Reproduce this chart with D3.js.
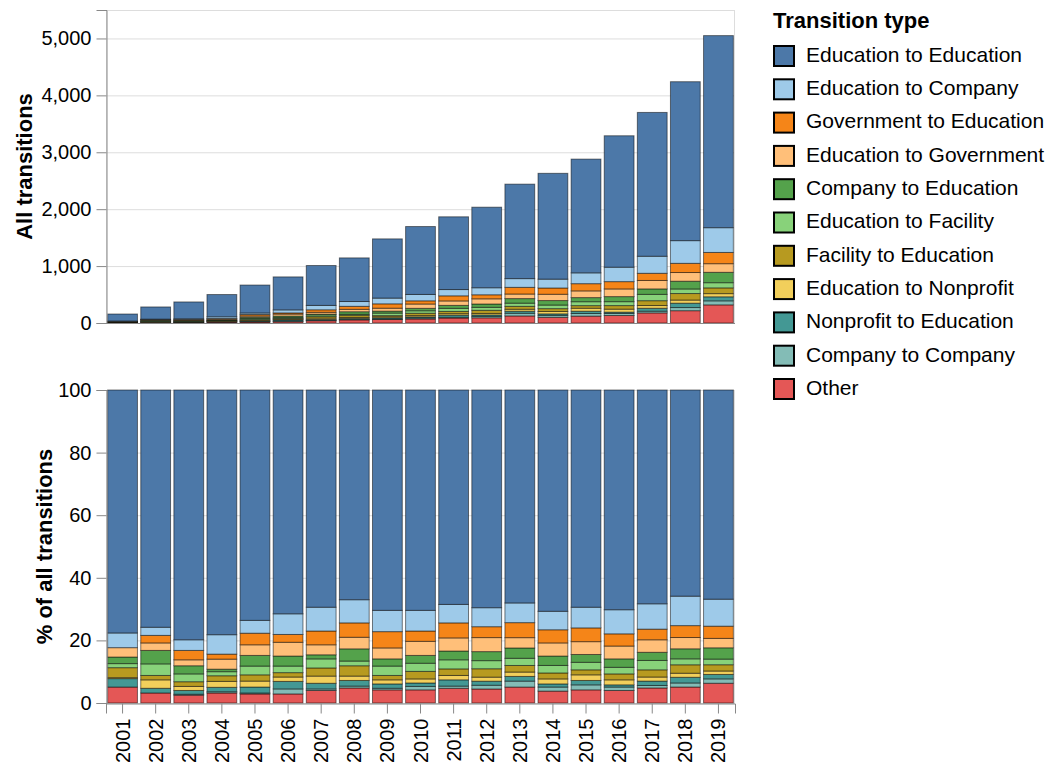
<!DOCTYPE html>
<html>
<head>
<meta charset="utf-8">
<script src="https://cdn.jsdelivr.net/npm/d3@7"></script>
<style>
  body { margin: 0; background: #fff; }
  text { font-family: "Liberation Sans", Arial, sans-serif; fill: #000; }
</style>
</head>
<body>
<script>
var years = ["2001", "2002", "2003", "2004", "2005", "2006", "2007", "2008", "2009", "2010",
  "2011", "2012", "2013", "2014", "2015", "2016", "2017", "2018", "2019"];

// total number of transitions per year
var totals = [158, 282, 370, 500, 667, 810, 1010, 1144, 1478, 1695, 1866, 2035, 2440, 2630, 2880, 3290, 3700, 4240, 5050];

// legend order (top of the stack first)
var types = ["Education to Education", "Education to Company", "Government to Education",
  "Education to Government", "Company to Education", "Education to Facility",
  "Facility to Education", "Education to Nonprofit", "Nonprofit to Education",
  "Company to Company", "Other"];
var colors = ["#4c78a8", "#9ecae9", "#f58518", "#ffbf79", "#54a24b", "#88d27a",
  "#b79a20", "#f2cf5b", "#439894", "#83bcb6", "#e45756"];

// share of the year's transitions, in %
var eduToEdu =         [77.7, 75.8, 79.8, 78.1, 73.6, 71.5, 69.4, 67.0, 70.4, 70.4, 68.5, 69.9, 68.1, 70.7, 69.4, 70.2, 68.3, 65.8, 66.7];
var eduToCompany =     [4.7, 2.6, 3.4, 6.2, 4.1, 6.6, 7.6, 7.4, 6.8, 6.6, 5.9, 6.1, 6.3, 5.9, 6.6, 7.7, 8.1, 9.4, 8.6];
var govToEdu =         [0, 2.4, 3.0, 1.6, 3.7, 2.5, 4.4, 4.6, 5.2, 3.3, 4.8, 3.5, 4.8, 4.2, 4.4, 3.9, 3.4, 3.8, 3.9];
var eduToGov =         [3.0, 2.4, 1.9, 3.2, 3.4, 4.4, 3.2, 3.7, 3.5, 4.5, 4.2, 4.5, 3.3, 4.2, 4.1, 4.1, 4.0, 3.6, 3.0];
var companyToEdu =     [2.1, 4.3, 2.6, 0.8, 3.4, 3.2, 1.3, 3.9, 2.3, 2.5, 2.8, 2.9, 3.3, 3.0, 2.5, 2.7, 2.6, 3.2, 3.6];
var eduToFacility =    [1.3, 3.7, 2.5, 1.3, 2.8, 2.1, 2.9, 1.5, 3.0, 2.6, 2.9, 2.6, 2.3, 2.4, 2.4, 2.1, 3.0, 1.9, 1.8];
var facilityToEdu =    [3.2, 1.4, 1.5, 1.8, 2.0, 1.4, 2.6, 3.3, 1.4, 2.4, 2.1, 2.7, 2.1, 1.9, 1.6, 1.9, 2.3, 2.7, 2.0];
var eduToNonprofit =   [0.3, 2.7, 1.3, 1.9, 1.9, 1.4, 2.3, 1.4, 1.3, 1.3, 1.4, 1.3, 1.4, 1.6, 1.8, 1.6, 1.3, 1.3, 1.1];
var nonprofitToEdu =   [2.7, 1.5, 1.2, 1.4, 1.9, 2.4, 1.8, 1.8, 1.4, 1.1, 2.0, 1.3, 1.5, 1.0, 1.4, 0.7, 1.4, 1.8, 1.4];
var companyToCompany = [0, 0, 0.3, 0.4, 0.3, 1.6, 0.5, 0.6, 0.5, 1.1, 0.7, 1.2, 1.9, 1.3, 1.6, 1.1, 0.8, 1.3, 1.4];
var other =            [5.1, 3.2, 2.5, 3.2, 2.9, 2.9, 4.0, 4.8, 4.2, 4.2, 4.7, 4.5, 5.1, 3.8, 4.2, 4.0, 4.8, 5.1, 6.3];

var shares = [eduToEdu, eduToCompany, govToEdu, eduToGov, companyToEdu, eduToFacility,
  facilityToEdu, eduToNonprofit, nonprofitToEdu, companyToCompany, other];

var w = 1047;
var h = 763;
var left = 106, right = 735;
var top1 = 10, bot1 = 323;
var top2 = 390, bot2 = 703;

var color = d3.scaleOrdinal().domain(types).range(colors);

// one row per year with counts and shares
var countRows = years.map(function(y, i) {
  var row = { year: y };
  var sum = d3.sum(shares, function(s) { return s[i]; });
  types.forEach(function(t, k) { row[t] = totals[i] * shares[k][i] / sum; });
  return row;
});
var shareRows = years.map(function(y, i) {
  var row = { year: y };
  types.forEach(function(t, k) { row[t] = shares[k][i]; });
  return row;
});

var keys = types.slice().reverse(); // "Other" at the bottom
var countStack = d3.stack().keys(keys)(countRows);
var shareStack = d3.stack().keys(keys).offset(d3.stackOffsetExpand)(shareRows);

var xScale = d3.scaleBand()
  .domain(years)
  .range([left, right])
  .paddingInner(0.1)
  .paddingOuter(0.05);

var yTop = d3.scaleLinear().domain([0, 5500]).range([bot1, top1]);
var yBot = d3.scaleLinear().domain([0, 100]).range([bot2, top2]);

var svg = d3.select("body")
  .append("svg")
  .attr("width", w)
  .attr("height", h);

function drawPanel(yScale, stack, factor, ticks, fmt, title, yTopPx, yBotPx, titleX) {
  var g = svg.append("g");

  // grid
  g.selectAll(".grid")
    .data(ticks)
    .enter()
    .append("line")
    .attr("x1", left)
    .attr("x2", right)
    .attr("y1", function(d) { return yScale(d) + 0.5; })
    .attr("y2", function(d) { return yScale(d) + 0.5; })
    .attr("stroke", "#ddd");

  // view border
  g.append("rect")
    .attr("x", left + 0.5)
    .attr("y", yTopPx + 0.5)
    .attr("width", right - left - 1)
    .attr("height", yBotPx - yTopPx)
    .attr("fill", "none")
    .attr("stroke", "#ddd");

  var layers = g.selectAll(".layer")
    .data(stack)
    .enter()
    .append("g")
    .attr("fill", function(d) { return color(d.key); });

  layers.selectAll("rect")
    .data(function(d) { return d.filter(function(p) { return p[1] - p[0] > 0; }); })
    .enter()
    .append("rect")
    .attr("x", function(d) { return xScale(d.data.year); })
    .attr("width", xScale.bandwidth())
    .attr("y", function(d) { return yScale(d[1] * factor); })
    .attr("height", function(d) { return yScale(d[0] * factor) - yScale(d[1] * factor); })
    .attr("stroke", "#000")
    .attr("stroke-opacity", 0.5)
    .attr("stroke-width", 1);

  var yAxis = d3.axisLeft(yScale)
    .tickValues(ticks)
    .tickFormat(fmt)
    .tickSize(10)
    .tickPadding(5);

  var ax = g.append("g")
    .attr("transform", "translate(" + (left + 0.5) + ",0)")
    .call(yAxis);
  ax.select(".domain").attr("stroke", "#888");
  ax.selectAll(".tick line").attr("stroke", "#888");
  ax.selectAll("text").style("font-size", "20px").attr("fill", "#000");

  svg.append("text")
    .attr("transform", "translate(" + titleX + "," + ((yTopPx + yBotPx) / 2) + ") rotate(-90)")
    .attr("text-anchor", "middle")
    .style("font-size", "22px")
    .style("font-weight", "bold")
    .text(title);

  return g;
}

drawPanel(yTop, countStack, 1, [0, 1000, 2000, 3000, 4000, 5000], d3.format(","),
  "All transitions", top1, bot1, 32);

drawPanel(yBot, shareStack, 100, [0, 20, 40, 60, 80, 100], d3.format("d"),
  "% of all transitions", top2, bot2, 52);

// top chart baseline
svg.append("line")
  .attr("x1", left)
  .attr("x2", right)
  .attr("y1", bot1 + 0.5)
  .attr("y2", bot1 + 0.5)
  .attr("stroke", "#888");

var xAxis = d3.axisBottom(xScale).tickSize(10).tickPadding(0);
var xg = svg.append("g")
  .attr("transform", "translate(0," + (bot2 + 0.5) + ")")
  .call(xAxis);
xg.select(".domain").attr("stroke", "#888");
xg.selectAll(".tick line").attr("stroke", "#888");
xg.selectAll("text")
  .style("font-size", "20px")
  .attr("fill", "#000")
  .attr("transform", "rotate(-90)")
  .attr("text-anchor", "end")
  .attr("x", -15)
  .attr("y", 0)
  .attr("dy", "0.35em");

// legend
var legend = svg.append("g").attr("transform", "translate(773,0)");
legend.append("text")
  .attr("x", 0)
  .attr("y", 27.5)
  .style("font-size", "22px")
  .style("font-weight", "bold")
  .text("Transition type");

var item = legend.selectAll(".item")
  .data(types)
  .enter()
  .append("g")
  .attr("transform", function(d, i) { return "translate(0," + (56 + i * 33.3) + ")"; });

item.append("rect")
  .attr("x", 1)
  .attr("y", -10)
  .attr("width", 20)
  .attr("height", 20)
  .attr("fill", function(d) { return color(d); })
  .attr("stroke", "#000")
  .attr("stroke-width", 2);

item.append("text")
  .attr("x", 33)
  .attr("y", -1.5)
  .attr("dy", "0.35em")
  .style("font-size", "21px")
  .text(function(d) { return d; });
</script>
</body>
</html>
